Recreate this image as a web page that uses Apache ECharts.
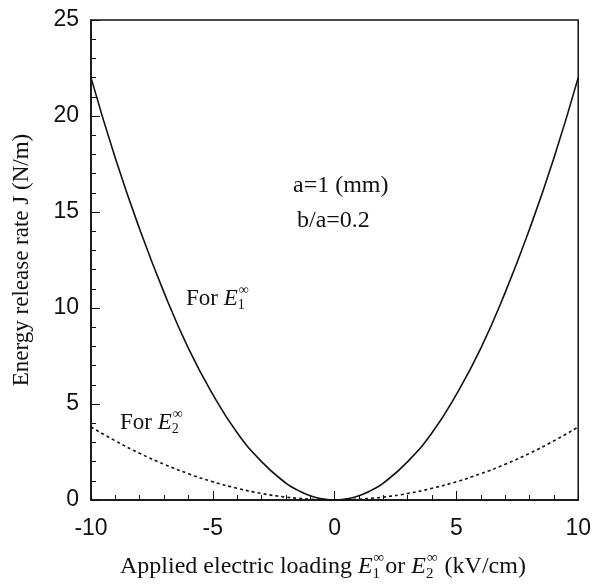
<!DOCTYPE html>
<html>
<head>
<meta charset="utf-8">
<script src="https://cdn.jsdelivr.net/npm/echarts@6/dist/echarts.min.js"></script>
<style>
  html, body { margin: 0; padding: 0; background: #fff; }
  #chart { width: 594px; height: 586px; }
</style>
</head>
<body>
<div id="chart"></div>
<script>
// values
var xVals = [-10, -9, -8, -7, -6, -5, -4, -3, -2, -1.5, -1, -0.5, 0, 0.5, 1, 1.5, 2, 3, 4, 5, 6, 7, 8, 9, 10];
var jE1 = [22, 17.8, 14.1, 10.8, 7.9, 5.5, 3.5, 2.0, 0.88, 0.5, 0.22, 0.06, 0, 0.06, 0.22, 0.5, 0.88, 2.0, 3.5, 5.5, 7.9, 10.8, 14.1, 17.8, 22];
var jE2 = [3.8, 3.08, 2.43, 1.86, 1.37, 0.95, 0.61, 0.34, 0.15, 0.09, 0.04, 0.01, 0, 0.01, 0.04, 0.09, 0.15, 0.34, 0.61, 0.95, 1.37, 1.86, 2.43, 3.08, 3.8];

function pairs(xs, ys) {
  var out = [];
  for (var i = 0; i < xs.length; i++) out.push([xs[i], ys[i]]);
  return out;
}

var serif = '"Liberation Serif", "DejaVu Serif", serif';
var sans = '"Liberation Sans", Arial, sans-serif';
var ctx = document.createElement('canvas').getContext('2d');

function fontStr(p) { return (p.italic ? 'italic ' : '') + p.size + 'px ' + serif; }
function textW(t, p) { ctx.font = fontStr(p); return ctx.measureText(t).width; }

// lay out text pieces left to right; a piece with sup+sub stacks them
function richLine(x, y, size, pieces) {
  var kids = [], cx = 0;
  pieces.forEach(function (p) {
    if (p.sup !== undefined) {
      var s = Math.round(size * 0.62);
      var w1 = textW(p.sup, { size: s }), w2 = textW(p.sub, { size: s });
      kids.push({ type: 'text', x: cx + 1, y: -size * 0.18, style: { text: p.sup, fontSize: s, fontFamily: serif, fill: '#111' } });
      kids.push({ type: 'text', x: cx, y: size * 0.5, style: { text: p.sub, fontSize: s, fontFamily: serif, fill: '#111' } });
      cx += Math.max(w1, w2) + 2;
    } else {
      var st = { size: size, italic: p.italic };
      kids.push({ type: 'text', x: cx, y: 0, style: { text: p.t, fontSize: size, fontStyle: p.italic ? 'italic' : 'normal', fontFamily: serif, fill: '#111' } });
      cx += textW(p.t, st);
    }
  });
  return { type: 'group', x: x, y: y, children: kids };
}

var chart = echarts.init(document.getElementById('chart'));

var option = {
  backgroundColor: '#fff',
  animation: false,
  grid: { left: 91, top: 20, right: 11, bottom: 86, show: true, borderColor: '#111', borderWidth: 1.5 },
  xAxis: {
    type: 'value', min: -10, max: 10, interval: 5,
    axisLine: { show: true, onZero: false, lineStyle: { color: '#111', width: 1.5 } },
    axisTick: { show: true, inside: true, length: 9, lineStyle: { color: '#111' } },
    minorTick: { show: true, splitNumber: 5, length: 5, lineStyle: { color: '#111' } },
    splitLine: { show: false },
    axisLabel: { color: '#111', fontSize: 23, fontFamily: sans, margin: 17 }
  },
  yAxis: {
    type: 'value', min: 0, max: 25, interval: 5,
    name: 'Energy release rate J (N/m)',
    nameLocation: 'middle', nameGap: 58, nameRotate: 90,
    nameTextStyle: { color: '#111', fontSize: 23, fontFamily: serif },
    axisLine: { show: true, onZero: false, lineStyle: { color: '#111', width: 1.5 } },
    axisTick: { show: true, inside: true, length: 9, lineStyle: { color: '#111' } },
    minorTick: { show: true, splitNumber: 5, length: 5, lineStyle: { color: '#111' } },
    splitLine: { show: false },
    axisLabel: { color: '#111', fontSize: 23, fontFamily: sans, margin: 12 }
  },
  series: [
    {
      name: 'E1', type: 'line', smooth: true, symbol: 'none',
      data: pairs(xVals, jE1),
      lineStyle: { color: '#111', width: 1.6 }
    },
    {
      name: 'E2', type: 'line', smooth: true, symbol: 'none',
      data: pairs(xVals, jE2),
      lineStyle: { color: '#111', width: 1.6, type: [3, 3] }
    }
  ],
  graphic: [
    { type: 'text', x: 293, y: 174, style: { text: 'a=1 (mm)', fontSize: 24, fontFamily: serif, fill: '#111' } },
    { type: 'text', x: 297, y: 209, style: { text: 'b/a=0.2', fontSize: 24, fontFamily: serif, fill: '#111' } },
    richLine(186, 287, 23, [{ t: 'For ' }, { t: 'E', italic: true }, { sup: '∞', sub: '1' }]),
    richLine(120, 411, 23, [{ t: 'For ' }, { t: 'E', italic: true }, { sup: '∞', sub: '2' }]),
    richLine(120, 555, 24, [
      { t: 'Applied electric loading ' }, { t: 'E', italic: true }, { sup: '∞', sub: '1' },
      { t: 'or ' }, { t: 'E', italic: true }, { sup: '∞', sub: '2' }, { t: ' (kV/cm)' }
    ])
  ]
};

chart.setOption(option);
</script>
</body>
</html>
